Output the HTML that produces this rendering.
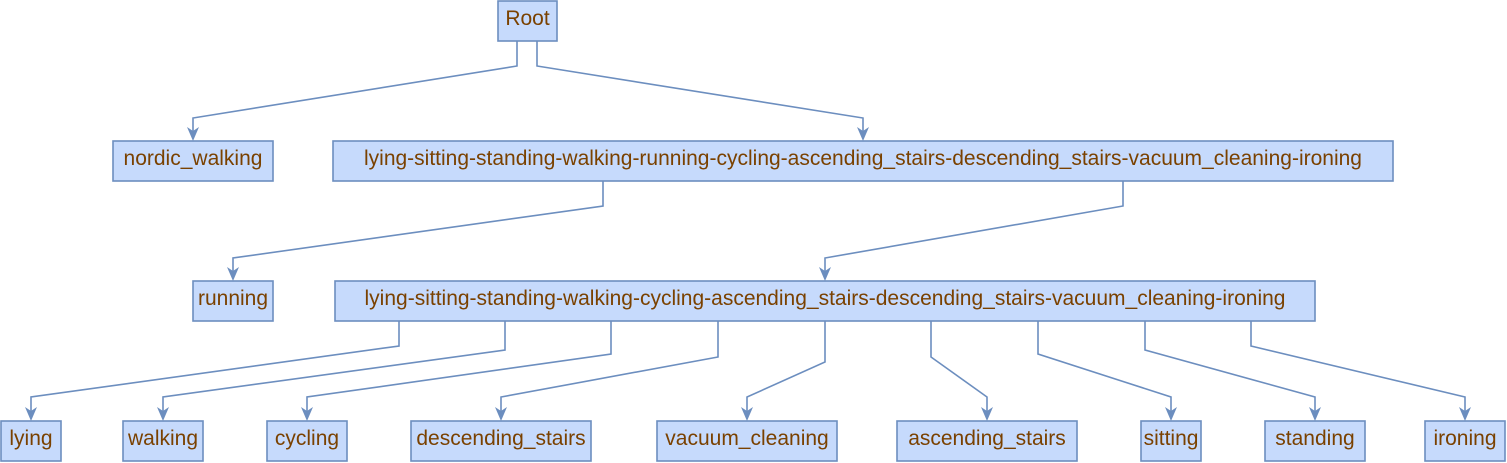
<!DOCTYPE html>
<html><head><meta charset="utf-8"><style>
html,body{margin:0;padding:0;background:#fff;}
svg{display:block;}
text{font-family:"Liberation Sans",sans-serif;font-size:21px;fill:#7a4100;}
</style></head><body>
<svg id="chart" width="1507" height="463" viewBox="0 0 1507 463" xmlns="http://www.w3.org/2000/svg">
<g id="edges"></g>
<g id="nodes"></g>
</svg>
<script>
const nodeLabels = ["Root","nordic_walking","lying-sitting-standing-walking-running-cycling-ascending_stairs-descending_stairs-vacuum_cleaning-ironing","running","lying-sitting-standing-walking-cycling-ascending_stairs-descending_stairs-vacuum_cleaning-ironing","lying","walking","cycling","descending_stairs","vacuum_cleaning","ascending_stairs","sitting","standing","ironing"];
const nodeNames = ["root","nordic-walking","group-all-but-nordic","running","group-all-but-running","lying","walking","cycling","descending-stairs","vacuum-cleaning","ascending-stairs","sitting","standing","ironing"];
// box geometry [x1, x2, top]
const nodeBoxes = [[498,557,1],[113,273,141],[333,1393,141],[193,273,281],[335,1315,281],[1,61,421],[123,203,421],[267,347,421],[411,591,421],[657,837,421],[897,1077,421],[1141,1201,421],[1265,1365,421],[1425,1505,421]];
// edges: [parent, child, exitX, stubY, bendY]
const edgeList = [[0,1,517,66,118],[0,2,537,66,118],[2,3,603,206,258],[2,4,1123,206,258],
[4,5,399,346,397],[4,6,505,350,397],[4,7,611,354,397],[4,8,718,357,397],[4,9,825,362,397],[4,10,931,357,397],[4,11,1038,354,397],[4,12,1145,350,397],[4,13,1251,346,397]];
const NS="http://www.w3.org/2000/svg";
const eg=document.getElementById('edges'), ng=document.getElementById('nodes');
edgeList.forEach(e=>{
  const b=nodeBoxes[e[1]], pb=nodeBoxes[e[0]];
  const cx=(b[0]+b[1])/2;
  const p=document.createElementNS(NS,'path');
  p.setAttribute('d',`M${e[2]},${pb[2]+40} L${e[2]},${e[3]} L${cx},${e[4]} L${cx},${b[2]-6}`);
  p.setAttribute('fill','none');p.setAttribute('stroke','#6c8ebf');p.setAttribute('stroke-width','1.6');
  
  
  eg.appendChild(p);
  const a=document.createElementNS(NS,'path');
  const t=b[2];
  a.setAttribute('d',`M${cx-6},${t-14} L${cx},${t-10} L${cx+6},${t-14} L${cx},${t} Z`);
  a.setAttribute('fill','#6c8ebf');
  
  
  eg.appendChild(a);
});
nodeBoxes.forEach((b,i)=>{
  const g=document.createElementNS(NS,'g');
  
  
  const r=document.createElementNS(NS,'rect');
  r.setAttribute('x',b[0]);r.setAttribute('y',b[2]);r.setAttribute('width',b[1]-b[0]);r.setAttribute('height',40);
  r.setAttribute('fill','#c6dafc');r.setAttribute('stroke','#6c8ebf');r.setAttribute('stroke-width','1.6');
  
  
  const t=document.createElementNS(NS,'text');
  t.setAttribute('x',(b[0]+b[1])/2);t.setAttribute('y',b[2]+24);t.setAttribute('text-anchor','middle');
  t.textContent=nodeLabels[i];
  
  
  g.appendChild(r);g.appendChild(t);ng.appendChild(g);
});
</script>
</body></html>
